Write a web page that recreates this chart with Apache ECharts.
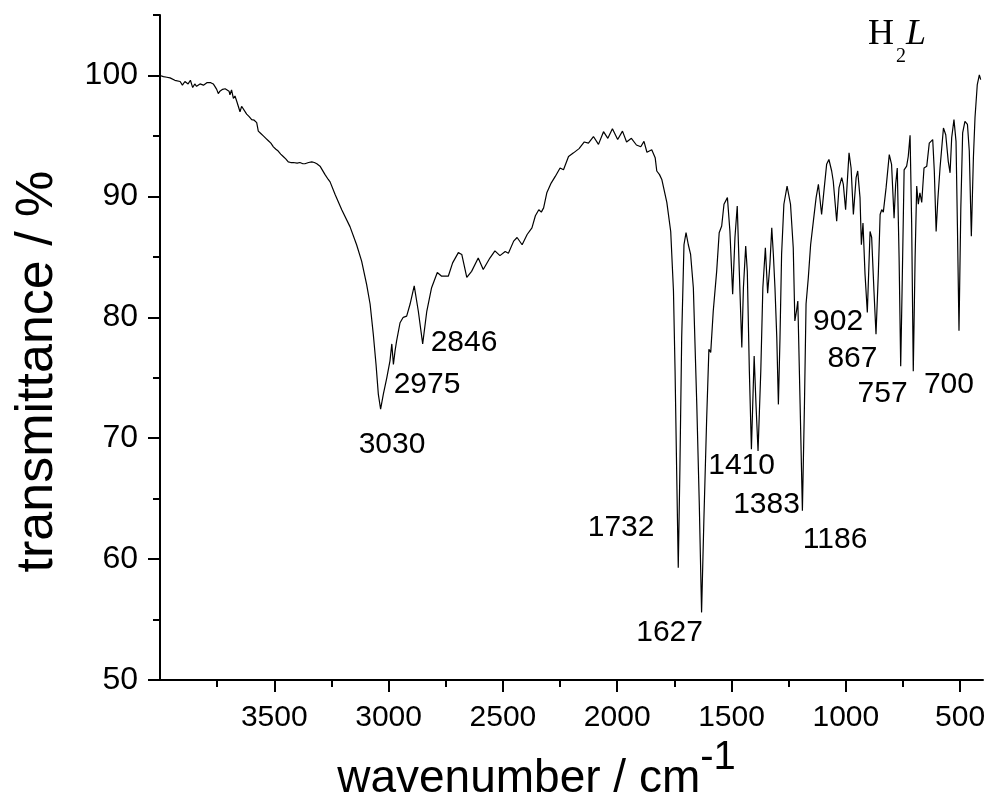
<!DOCTYPE html>
<html>
<head>
<meta charset="utf-8">
<script src="https://cdn.jsdelivr.net/npm/echarts@6/dist/echarts.min.js"></script>
<style>
html,body{margin:0;padding:0;background:#fff;}
#chart{width:993px;height:807px;}
</style>
</head>
<body>
<div id="chart"></div>
<script>
const wavenumber = [4000,3985,3970,3956,3935,3912,3902,3891,3877,3867,3857,3848,3840,3832,3825,3817,3810,3803,3795,3789,3778,3767,3760,3752,3745,3738,3726,3715,3708,3698,3694,3687,3679,3672,3664,3657,3650,3643,3636,3621,3610,3599,3588,3577,3570,3559,3548,3537,3526,3515,3504,3493,3483,3472,3461,3450,3439,3428,3417,3400,3388,3375,3366,3350,3336,3325,3314,3300,3292,3278,3264,3256,3234,3205,3169,3140,3118,3096,3081,3067,3055,3045,3035,3023,3008,2994,2986,2979,2972,2965,2950,2936,2921,2906,2888,2870,2851,2833,2812,2787,2768,2739,2720,2695,2680,2658,2637,2608,2586,2557,2535,2513,2490,2476,2453,2438,2416,2394,2373,2358,2343,2332,2322,2308,2289,2271,2250,2235,2213,2191,2167,2144,2126,2104,2082,2060,2041,2021,1998,1977,1959,1938,1916,1897,1883,1870,1849,1834,1827,1815,1805,1783,1766,1754,1747,1740,1733,1726,1718,1708,1699,1689,1679,1667,1652,1641,1631,1621,1609,1599,1591,1580,1565,1554,1543,1533,1518,1507,1495,1485,1475,1466,1455,1448,1438,1431,1422,1413,1401,1393,1384,1372,1363,1352,1342,1332,1324,1317,1310,1302,1295,1288,1281,1271,1257,1242,1230,1223,1216,1210,1200,1190,1181,1174,1164,1154,1142,1130,1120,1106,1095,1084,1074,1062,1055,1040,1030,1018,1011,1001,986,977,967,955,948,938,932,925,916,906,894,887,877,868,858,850,843,836,824,810,800,789,782,775,767,760,754,745,734,727,719,712,705,697,690,683,676,668,658,646,635,620,613,605,598,588,573,563,552,544,537,527,518,512,505,497,489,479,468,460,451,442,435,425,416,410];
const transmittance = [100.0,99.9,99.85,99.8,99.6,99.5,99.2,99.5,99.3,99.6,99.0,99.3,99.1,99.0,99.3,99.4,99.2,99.1,99.4,99.5,99.4,99.3,99.1,98.85,98.5,98.7,98.85,98.9,98.85,98.7,98.4,98.8,98.1,98.3,97.85,97.9,97.0,97.45,97.3,96.8,96.6,96.35,96.3,96.1,95.4,95.2,95.0,94.8,94.6,94.4,94.1,93.9,93.75,93.5,93.3,93.1,92.85,92.8,92.8,92.75,92.8,92.7,92.7,92.8,92.85,92.8,92.7,92.5,92.4,91.8,91.4,91.2,90.15,88.9,87.5,86.0,84.65,82.7,81.1,78.6,76.1,73.65,72.4,73.65,75.0,76.4,77.8,76.1,77.2,78.05,79.55,80.0,80.1,81.1,82.6,80.5,77.8,80.5,82.45,83.7,83.4,83.4,84.5,85.35,85.2,83.3,83.8,84.9,83.95,84.9,85.5,85.1,85.45,85.3,86.3,86.6,86.0,86.85,87.4,88.4,88.9,88.7,89.05,90.3,91.1,91.65,92.35,92.2,93.3,93.6,93.95,94.5,94.4,94.95,94.3,95.35,94.8,95.6,94.7,95.4,94.5,94.8,94.25,94.1,94.55,93.65,93.85,93.2,92.1,91.8,91.4,89.5,87.1,82.2,75.6,67.3,59.3,67.3,78.3,86.0,87.0,86.0,85.2,82.45,72.8,64.55,55.6,63.2,71.45,77.35,77.1,80.5,83.8,87.0,87.55,89.35,89.9,87.1,81.9,86.6,89.2,83.8,77.5,82.45,85.9,83.8,75.55,69.1,76.8,72.8,68.95,75.55,82.45,85.75,82.0,84.4,87.4,85.2,82.45,78.3,72.8,78.3,85.2,89.35,90.85,89.35,85.75,79.7,80.5,81.35,72.8,64.0,72.8,81.1,83.3,86.0,87.95,89.9,91.0,88.5,90.6,92.65,93.05,92.1,91.25,87.95,90.7,91.55,91.0,88.9,93.6,92.35,88.5,91.55,92.1,89.9,86.0,87.8,83.55,80.4,87.1,86.6,82.2,78.6,83.55,88.5,88.9,88.7,90.7,93.45,92.65,88.2,91.0,92.35,84.9,75.95,82.2,92.2,92.5,93.3,95.05,87.7,75.55,84.9,90.85,89.35,90.3,89.5,92.35,92.5,94.4,94.7,92.1,87.1,89.6,92.35,95.65,95.1,92.9,91.95,94.85,96.35,94.55,87.7,78.9,89.05,95.25,96.2,95.95,93.75,86.7,93.2,96.5,99.25,100.05,99.65];

const xMajorTicks = [3500, 3000, 2500, 2000, 1500, 1000, 500];
const xMinorTicks = [3750, 3250, 2750, 2250, 1750, 1250, 750];
const yMajorTicks = [50, 60, 70, 80, 90, 100];
const yMinorTicks = [55, 65, 75, 85, 95, 105];

const peakLabels = ['3030', '2975', '2846', '1732', '1627', '1410', '1383', '1186', '902', '867', '757', '700'];
const peakLabelWn = [2985, 2832, 2670, 1983, 1771, 1456, 1347, 1047, 1034, 971, 839, 549];
const peakLabelT = [69.5, 74.4, 77.9, 62.6, 53.9, 67.7, 64.5, 61.6, 79.6, 76.6, 73.7, 74.4];

const xTitle = 'wavenumber / cm';
const xTitleSup = '-1';
const yTitle = 'transmittance / %';

const spectrum = wavenumber.map((w, i) => [w, transmittance[i]]);
const labelPoints = peakLabels.map((t, i) => ({ name: t, value: [peakLabelWn[i], peakLabelT[i]] }));

const FONT = 'Liberation Sans, Arial, sans-serif';
const SERIF = '"Liberation Serif", "Times New Roman", serif';
const chart = echarts.init(document.getElementById('chart'), null, { renderer: 'canvas' });

chart.setOption({
  animation: false,
  backgroundColor: '#ffffff',
  grid: { left: 160, right: 10, top: 15, bottom: 124 },
  xAxis: [
    {
      type: 'value', min: 400, max: 4000, inverse: true,
      name: '{a|' + xTitle + '}{b|' + xTitleSup + '}',
      nameLocation: 'middle', nameGap: 55,
      nameTextStyle: {
        padding: [0, 70, 0, 0],
        rich: {
          a: { fontFamily: FONT, fontSize: 46, color: '#000', verticalAlign: 'bottom', lineHeight: 64 },
          b: { fontFamily: FONT, fontSize: 40, color: '#000', verticalAlign: 'top', lineHeight: 64 }
        }
      },
      axisLine: { show: true, onZero: false, lineStyle: { color: '#000', width: 2 } },
      axisTick: { show: true, inside: false, length: 12, customValues: xMajorTicks, lineStyle: { color: '#000', width: 2 } },
      axisLabel: { show: true, customValues: xMajorTicks, margin: 23, color: '#000', fontFamily: FONT, fontSize: 30, formatter: v => String(v) },
      splitLine: { show: false }
    },
    {
      type: 'value', min: 400, max: 4000, inverse: true, position: 'bottom',
      axisLine: { show: false },
      axisTick: { show: true, inside: false, length: 7, customValues: xMinorTicks, lineStyle: { color: '#000', width: 2 } },
      axisLabel: { show: false },
      splitLine: { show: false }
    }
  ],
  yAxis: [
    {
      type: 'value', min: 50, max: 105,
      name: yTitle, nameLocation: 'middle', nameGap: 96, nameRotate: 90,
      nameTextStyle: { fontFamily: FONT, fontSize: 52, color: '#000', padding: [0, 48, 0, 0] },
      axisLine: { show: true, onZero: false, lineStyle: { color: '#000', width: 2 } },
      axisTick: { show: true, inside: false, length: 12, customValues: yMajorTicks, lineStyle: { color: '#000', width: 2 } },
      axisLabel: { show: true, customValues: yMajorTicks, margin: 22, color: '#000', fontFamily: FONT, fontSize: 32, formatter: v => String(v) },
      splitLine: { show: false }
    },
    {
      type: 'value', min: 50, max: 105, position: 'left',
      axisLine: { show: false },
      axisTick: { show: true, inside: false, length: 7, customValues: yMinorTicks, lineStyle: { color: '#000', width: 2 } },
      axisLabel: { show: false },
      splitLine: { show: false }
    }
  ],
  series: [
    {
      type: 'line', name: 'H2L', xAxisIndex: 0, yAxisIndex: 0,
      data: spectrum, showSymbol: false, symbol: 'none',
      lineStyle: { color: '#000', width: 1.2 },
      clip: true, smooth: false
    },
    {
      type: 'scatter', xAxisIndex: 0, yAxisIndex: 0,
      data: labelPoints, symbol: 'circle', symbolSize: 0,
      itemStyle: { color: '#000', opacity: 1 },
      label: {
        show: true, position: 'inside', formatter: p => p.name,
        fontFamily: FONT, fontSize: 30, color: '#000', opacity: 1, textBorderWidth: 0
      },
      emphasis: { disabled: true }, silent: true
    }
  ],
  graphic: [
    { type: 'text', left: 868, top: 17, style: { text: 'H', font: '36px ' + SERIF, fill: '#000' } },
    { type: 'text', left: 896, top: 47, style: { text: '2', font: '20px ' + SERIF, fill: '#000' } },
    { type: 'text', left: 906, top: 17, style: { text: 'L', font: 'italic 36px ' + SERIF, fill: '#000' } }
  ]
});
</script>
</body>
</html>
